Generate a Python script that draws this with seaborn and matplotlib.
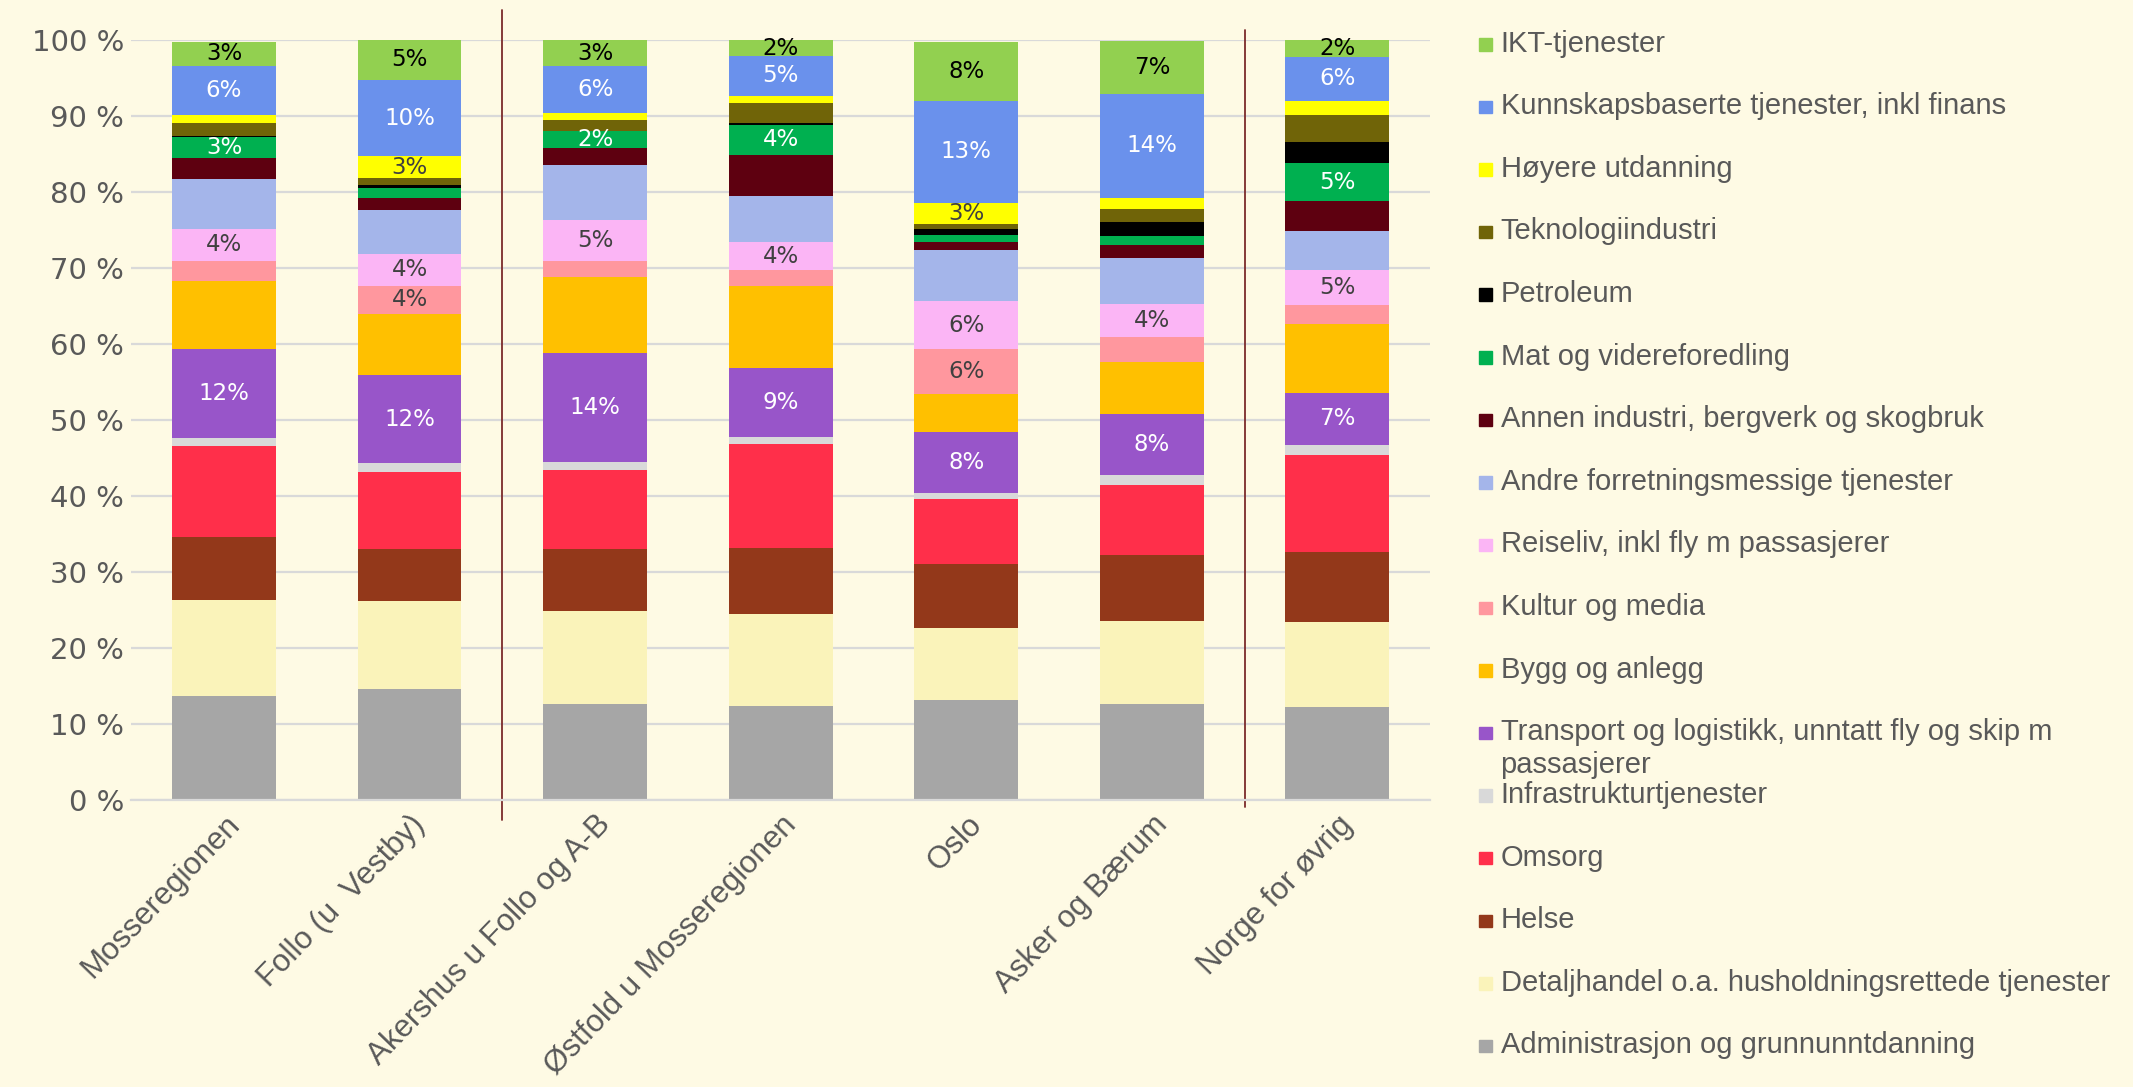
import numpy as np
import pandas as pd
import matplotlib
matplotlib.use("Agg")
import matplotlib.pyplot as plt
import seaborn as sns

# ----------------------------------------
# DATA (share of employment, %)
# ----------------------------------------

regions = ["Mosseregionen", "Follo (u  Vestby)", "Akershus u Follo og A-B",
           "Østfold u Mosseregionen", "Oslo", "Asker og Bærum", "Norge for øvrig"]

admin     = [13.7, 14.6, 12.6, 12.4, 13.1, 12.6, 12.3]
detalj    = [12.6, 11.6, 12.3, 12.1, 9.6, 11.0, 11.1]
helse     = [8.3, 6.9, 8.2, 8.7, 8.4, 8.6, 9.3]
omsorg    = [12.0, 10.1, 10.4, 13.6, 8.5, 9.2, 12.7]
infra     = [1.0, 1.1, 1.0, 1.0, 0.8, 1.4, 1.3]
transport = [11.8, 11.6, 14.3, 9.0, 8.1, 8.0, 6.9]
bygg      = [8.9, 8.1, 10.1, 10.8, 4.9, 6.9, 9.1]
kultur    = [2.6, 3.7, 2.1, 2.1, 5.9, 3.2, 2.5]
reiseliv  = [4.3, 4.2, 5.3, 3.8, 6.4, 4.4, 4.6]
andre     = [6.5, 5.8, 7.3, 6.0, 6.7, 6.0, 5.1]
annen     = [2.8, 1.5, 2.2, 5.4, 1.0, 1.7, 3.9]
mat       = [2.7, 1.4, 2.2, 4.0, 1.0, 1.2, 5.0]
petroleum = [0.2, 0.4, 0.1, 0.2, 0.7, 1.9, 2.8]
teknologi = [1.7, 0.9, 1.4, 2.7, 0.7, 1.7, 3.6]
hoyere    = [1.1, 2.8, 0.9, 0.9, 2.8, 1.5, 1.8]
kunnskap  = [6.4, 10.1, 6.2, 5.2, 13.4, 13.6, 5.8]
ikt       = [3.2, 5.2, 3.4, 2.2, 7.8, 7.0, 2.2]

# which segments carry a value label
show_ikt       = [1, 1, 1, 1, 1, 1, 1]
show_kunnskap  = [1, 1, 1, 1, 1, 1, 1]
show_hoyere    = [0, 1, 0, 0, 1, 0, 0]
show_mat       = [1, 0, 1, 1, 0, 0, 1]
show_reiseliv  = [1, 1, 1, 1, 1, 1, 1]
show_kultur    = [0, 1, 0, 0, 1, 0, 0]
show_transport = [1, 1, 1, 1, 1, 1, 1]

# bottom -> top: (legend name, values, colour, label mask, label colour)
series = [
    ("Administrasjon og grunnunntdanning", admin, "#A6A6A6", None, None),
    ("Detaljhandel o.a. husholdningsrettede tjenester", detalj, "#FAF3BA", None, None),
    ("Helse", helse, "#93381A", None, None),
    ("Omsorg", omsorg, "#FF2F4A", None, None),
    ("Infrastrukturtjenester", infra, "#D9D9D9", None, None),
    ("Transport og logistikk, unntatt fly og skip m\npassasjerer", transport, "#9855C9", show_transport, "white"),
    ("Bygg og anlegg", bygg, "#FFC000", None, None),
    ("Kultur og media", kultur, "#FF979E", show_kultur, "#404040"),
    ("Reiseliv, inkl fly m passasjerer", reiseliv, "#FBB5F5", show_reiseliv, "#404040"),
    ("Andre forretningsmessige tjenester", andre, "#A4B5EA", None, None),
    ("Annen industri, bergverk og skogbruk", annen, "#5E0010", None, None),
    ("Mat og videreforedling", mat, "#00B050", show_mat, "white"),
    ("Petroleum", petroleum, "#000000", None, None),
    ("Teknologiindustri", teknologi, "#706408", None, None),
    ("Høyere utdanning", hoyere, "#FFFF00", show_hoyere, "#404040"),
    ("Kunnskapsbaserte tjenester, inkl finans", kunnskap, "#6A91EC", show_kunnskap, "white"),
    ("IKT-tjenester", ikt, "#92D050", show_ikt, "black"),
]

# ----------------------------------------
# PLOT
# ----------------------------------------

bg = "#FEFAE4"
sns.set_style("white")
plt.rcParams["font.family"] = ["Liberation Sans", "DejaVu Sans"]

fig = plt.figure(figsize=(21.33, 10.87), dpi=100, facecolor=bg)
ax = fig.add_axes([0.0615, 0.264, 0.609, 0.699])
ax.set_facecolor(bg)

df = pd.DataFrame({"region": regions})
bottom = np.zeros(len(regions))
for name, vals, col, mask, lcol in series:
    sns.barplot(x=df["region"], y=vals, color=col, width=0.56, bottom=bottom,
                errorbar=None, linewidth=0, saturation=1, ax=ax, order=regions)
    cont = ax.containers[-1]
    if mask is not None:
        labels = [f"{round(v):.0f}%" if m else "" for v, m in zip(vals, mask)]
        ax.bar_label(cont, labels=labels, label_type="center", color=lcol,
                     fontsize=16.5, family="DejaVu Sans")
    bottom = bottom + np.array(vals)

ax.set_ylim(0, 100)
ax.set_xlim(-0.5, 6.5)
ax.set_yticks(np.arange(0, 101, 10))
ax.set_yticklabels([f"{v} %" for v in range(0, 101, 10)], fontsize=21,
                   color="#595959", family="DejaVu Sans")
ax.yaxis.grid(True, color="#D9D9D9", linewidth=1.6)
ax.set_axisbelow(True)
for s in ["top", "right", "left"]:
    ax.spines[s].set_visible(False)
ax.spines["bottom"].set_color("#D9D9D9")
ax.spines["bottom"].set_linewidth(1.6)
ax.tick_params(axis="y", length=0, pad=5)
ax.tick_params(axis="x", length=0, pad=7)
ax.set_xlabel("")
ax.set_ylabel("")
ax.set_xticks(range(len(regions)))
ax.set_xticklabels(regions, rotation=46, ha="right", rotation_mode="anchor",
                   fontsize=22.5, color="#595959")

# separators between region groups
xt = ax.get_xaxis_transform()
ax.plot([1.5, 1.5], [-0.026, 1.04], transform=xt, color="#7B2A2A",
        linewidth=1.3, clip_on=False)
ax.plot([5.5, 5.5], [-0.009, 1.014], transform=xt, color="#7B2A2A",
        linewidth=1.3, clip_on=False)

# legend, top entry first, fixed spacing like the original
y0 = 0.960
step = 0.0576
for i, (name, vals, col, mask, lcol) in enumerate(series[::-1]):
    y = y0 - i * step
    fig.patches.append(plt.Rectangle((0.6935, y - 0.0065), 0.0058, 0.0115,
                                     transform=fig.transFigure, color=col,
                                     figure=fig))
    fig.text(0.7035, y + 0.0128, name, va="top", ha="left", fontsize=21,
             color="#595959", linespacing=1.2)

fig.savefig("out.png", dpi=100, facecolor=bg)
